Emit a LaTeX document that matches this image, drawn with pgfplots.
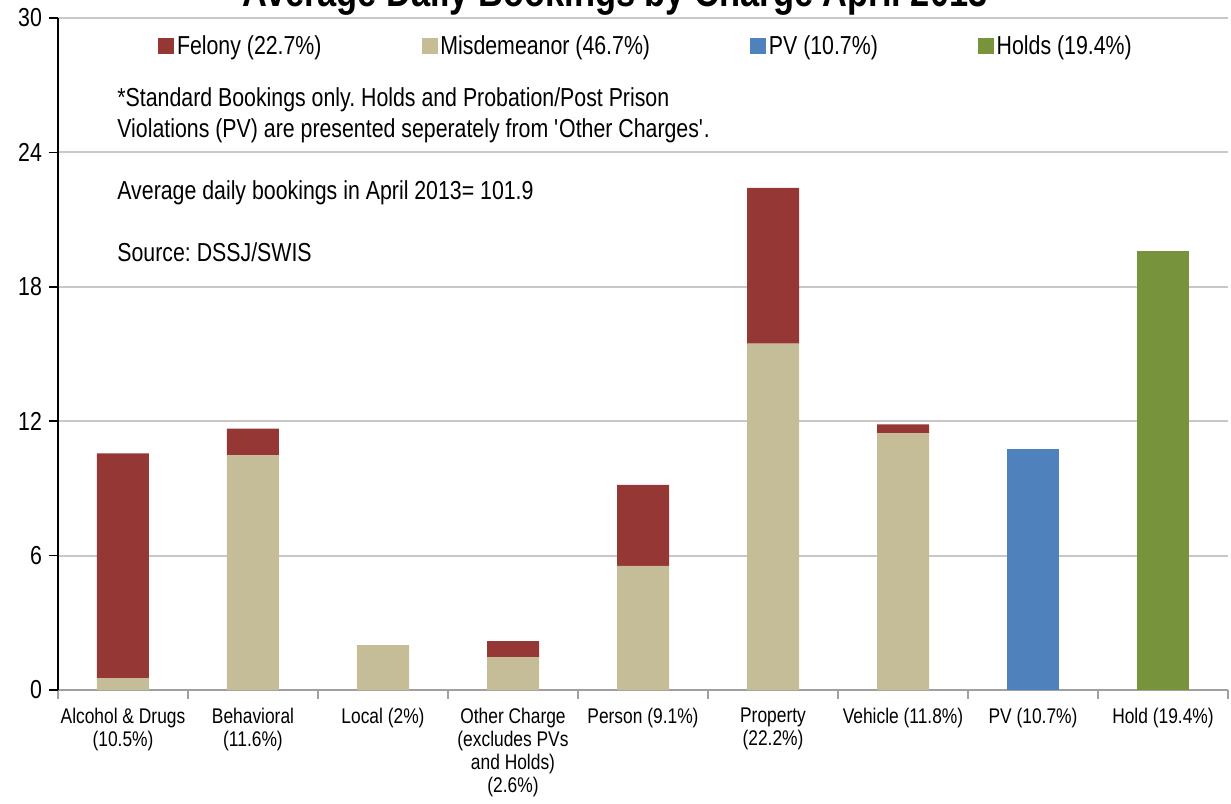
\documentclass[border=0pt]{standalone}
\usepackage{fontspec}
\setmainfont[FakeStretch=0.82]{Liberation Sans}
\usepackage{pgfplots}
\pgfplotsset{compat=1.18}
\definecolor{felony}{HTML}{953735}
\definecolor{misd}{HTML}{C4BD97}
\definecolor{pvcol}{HTML}{4F81BD}
\definecolor{holdcol}{HTML}{77933C}
\definecolor{gridgray}{HTML}{C8C8C8}
\definecolor{axgray}{HTML}{A0A0A0}
\frenchspacing
\begin{document}
\begin{tikzpicture}
\begin{axis}[
  scale only axis, width=585pt, height=336pt,
  xmin=-0.5, xmax=8.5, ymin=0, ymax=30,
  ybar stacked, bar width=26pt,
  ytick={0,6,...,30},
  xtick={0,...,8},
  xticklabels={{Alcohol \& Drugs\\(10.5\%)},{Behavioral\\(11.6\%)},{Local (2\%)},{Other Charge\\(excludes PVs\\and Holds)\\(2.6\%)},{Person (9.1\%)},{Property\\(22.2\%)},{Vehicle (11.8\%)},{PV (10.7\%)},{Hold (19.4\%)}},
  minor xtick={-0.5,0.5,...,8.5},
  tick align=outside,
  major tick length=4.5pt, minor tick length=4.5pt,
  major x tick style={draw=none},
  minor x tick style={axgray, line width=0.9pt},
  y tick style={black, line width=0.8pt},
  ymajorgrids, grid style={gridgray, line width=0.9pt},
  axis x line*=bottom, axis y line*=left,
  x axis line style={axgray, line width=0.9pt, -},
  y axis line style={black, line width=1pt, -},
  /pgf/number format/assume math mode=true,
  yticklabel style={font=\fontsize{13pt}{15.6pt}\selectfont},
  xticklabel style={font=\fontsize{10.6pt}{11.5pt}\selectfont, align=center, anchor=north, yshift=-0.8pt},
  legend style={at={(0.503,0.958)}, anchor=center, draw=none, fill=none,
    font=\fontsize{13pt}{15.6pt}\selectfont, legend columns=4,
    /tikz/every even column/.append style={column sep=48.5pt},
    nodes={inner xsep=1.5pt}},
  legend cell align=left,
]
\addplot[fill=misd, draw=none, forget plot] coordinates {(0,0.53) (1,10.47) (2,2.00) (3,1.47) (4,5.54) (5,15.46) (6,11.46) (7,0) (8,0)};
\addplot[fill=felony, draw=none, forget plot] coordinates {(0,10.03) (1,1.20) (2,0) (3,0.71) (4,3.62) (5,6.96) (6,0.40) (7,0) (8,0)};
\addplot[fill=pvcol, draw=none, forget plot] coordinates {(0,0) (1,0) (2,0) (3,0) (4,0) (5,0) (6,0) (7,10.75) (8,0)};
\addplot[fill=holdcol, draw=none, forget plot] coordinates {(0,0) (1,0) (2,0) (3,0) (4,0) (5,0) (6,0) (7,0) (8,19.61)};
\addlegendimage{legend image code/.code={\fill[felony] (0pt,-3.75pt) rectangle (7.5pt,3.75pt);}}
\addlegendentry{Felony (22.7\%)}
\addlegendimage{legend image code/.code={\fill[misd] (0pt,-3.75pt) rectangle (7.5pt,3.75pt);}}
\addlegendentry{Misdemeanor (46.7\%)}
\addlegendimage{legend image code/.code={\fill[pvcol] (0pt,-3.75pt) rectangle (7.5pt,3.75pt);}}
\addlegendentry{PV (10.7\%)}
\addlegendimage{legend image code/.code={\fill[holdcol] (0pt,-3.75pt) rectangle (7.5pt,3.75pt);}}
\addlegendentry{Holds (19.4\%)}
\end{axis}
\begin{scope}[every node/.style={anchor=west, inner sep=0pt, font=\fontsize{13pt}{15.6pt}\selectfont}]
\node at (29.5pt,295pt) {*Standard Bookings only. Holds and Probation/Post Prison};
\node at (29.5pt,279.5pt) {Violations (PV) are presented seperately from \textquotesingle Other Charges\textquotesingle.};
\node at (29.5pt,248.5pt) {Average daily bookings in April 2013= 101.9};
\node at (29.5pt,219pt) {Source: DSSJ/SWIS};
\end{scope}
\node[anchor=base, inner sep=0pt, font=\bfseries\fontsize{21pt}{25pt}\selectfont] at (278.5pt,341.5pt) {Average Daily Bookings by Charge April 2013};
\pgfresetboundingbox
\path[use as bounding box] (-29pt,-56.5pt) rectangle (586.5pt,345pt);
\end{tikzpicture}
\end{document}
